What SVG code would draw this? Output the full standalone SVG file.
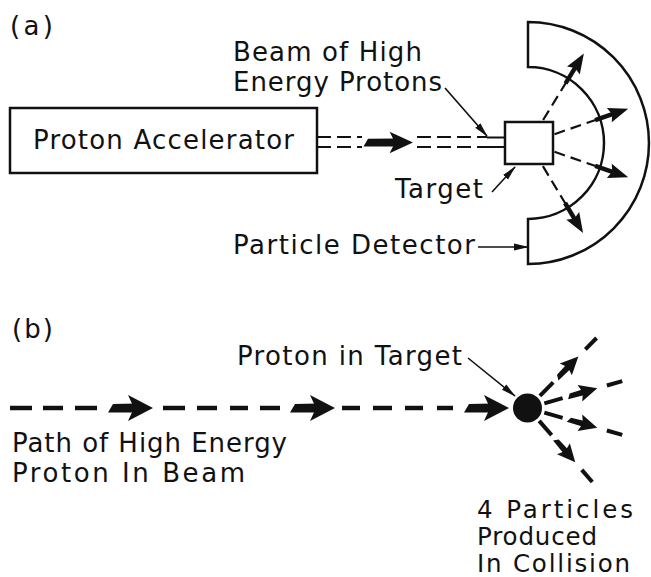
<svg xmlns="http://www.w3.org/2000/svg" xmlns:xlink="http://www.w3.org/1999/xlink" width="651" height="577" viewBox="0 0 651 577">
<style>
text{font-family:"DejaVu Sans","Liberation Sans",Arial,sans-serif;font-size:26px;fill:#111}
.sm{font-size:24.5px}
.ln{fill:none;stroke:#111;stroke-width:2.5}
.thin{fill:none;stroke:#111;stroke-width:1.6}
.dsh{fill:none;stroke:#111;stroke-width:2.2;stroke-dasharray:14 6}
.fill{fill:#111;stroke:none}
</style>
<defs>
<marker id="ah" markerWidth="15" markerHeight="8" refX="14" refY="4" orient="auto" markerUnits="userSpaceOnUse">
<path d="M0,0.6 L15,4 L0,7.4 Z" fill="#111"/>
</marker>
<g id="rayA">
<line x1="27" y1="0" x2="72" y2="0" stroke="#111" stroke-width="2.2" stroke-dasharray="11 6"/>
<line x1="70" y1="0" x2="89" y2="0" stroke="#111" stroke-width="4.5"/>
<polygon points="85,-7.5 105,0 85,7.5 88,0" fill="#111"/>
</g>
<g id="rayB">
<line x1="17" y1="0" x2="36" y2="0" stroke="#111" stroke-width="4"/>
<polygon points="41,2.5 44,-2.5 58,-3 58,3" fill="#111"/>
<polygon points="54,-8.5 72,0 54,8.5 57,0" fill="#111"/>
<line x1="82" y1="0" x2="98" y2="0" stroke="#111" stroke-width="4"/>
</g>
<g id="beamArrow">
<polygon points="-45,4.5 -40,-4 -17,-4.5 -17,4.5" fill="#111"/>
<polygon points="-25,-13 0,0 -25,13 -19,0" fill="#111"/>
</g>
</defs>

<!-- part (a) -->
<text id="label-a" x="10" y="35" textLength="43" lengthAdjust="spacing">(a)</text>

<g id="accelerator">
<rect class="ln" x="10" y="108" width="307" height="65"/>
<text x="33" y="149" textLength="261" lengthAdjust="spacing">Proton Accelerator</text>
</g>

<g id="target">
<rect class="ln" x="505" y="122" width="48" height="42"/>
</g>

<g id="detector">
<path class="ln" d="M528,22 A121,121 0 0 1 528,264 L528,219 A76,76 0 0 0 528,67 Z"/>
</g>

<g id="beam-label">
<text x="233" y="61" textLength="189" lengthAdjust="spacing">Beam of High</text>
<text x="233" y="91" textLength="209" lengthAdjust="spacing">Energy Protons</text>
</g>
<g id="target-label">
<text x="395" y="198" textLength="88" lengthAdjust="spacing">Target</text>
</g>
<g id="detector-label">
<text x="233" y="254" textLength="242" lengthAdjust="spacing">Particle Detector</text>
</g>

<g id="connectors-a">
<line class="dsh" x1="317" y1="137" x2="362" y2="137"/>
<line class="dsh" x1="317" y1="147" x2="362" y2="147"/>
<line class="dsh" x1="417" y1="137" x2="487" y2="137"/>
<line class="dsh" x1="417" y1="147" x2="487" y2="147"/>
<line class="ln" x1="487" y1="137.5" x2="505" y2="137.5" style="stroke-width:2"/>
<line class="ln" x1="487" y1="147" x2="505" y2="147" style="stroke-width:2"/>
<g transform="translate(413 142.5) scale(0.9 0.82)">
<polygon points="-55,5 -50,-4.5 -17,-5 -17,5" fill="#111"/>
<polygon points="-26,-13 0,0 -26,13 -20,0" fill="#111"/>
</g>
<line class="thin" x1="445" y1="88" x2="487" y2="136" marker-end="url(#ah)"/>
<line class="thin" x1="492" y1="192" x2="515" y2="167" marker-end="url(#ah)"/>
<line class="thin" x1="478" y1="247" x2="528" y2="247" marker-end="url(#ah)"/>
<use xlink:href="#rayA" transform="translate(529 143) rotate(-58.5)"/>
<use xlink:href="#rayA" transform="translate(529 143) rotate(-19.1)"/>
<use xlink:href="#rayA" transform="translate(529 143) rotate(19.1)"/>
<use xlink:href="#rayA" transform="translate(529 143) rotate(59)"/>
</g>

<!-- part (b) -->
<text id="label-b" x="12" y="338" textLength="41" lengthAdjust="spacing">(b)</text>

<g id="proton-in-target">
<circle class="fill" cx="527.5" cy="408" r="14.5"/>
</g>

<g id="proton-target-label">
<text x="237" y="365" textLength="225" lengthAdjust="spacing">Proton in Target</text>
</g>
<g id="path-label">
<text x="12" y="452" textLength="275" lengthAdjust="spacing">Path of High Energy</text>
<text x="12" y="482" textLength="233" lengthAdjust="spacing">Proton In Beam</text>
</g>
<g id="particles-label">
<text class="sm" x="477" y="518" textLength="156" lengthAdjust="spacing">4 Particles</text>
<text class="sm" x="477" y="545" textLength="120" lengthAdjust="spacing">Produced</text>
<text class="sm" x="477" y="572" textLength="153" lengthAdjust="spacing">In Collision</text>
</g>

<g id="connectors-b">
<g stroke="#111" stroke-width="4.5">
<line x1="10" y1="408" x2="32" y2="408"/>
<line x1="43" y1="408" x2="63" y2="408"/>
<line x1="75" y1="408" x2="97" y2="408"/>
<line x1="163" y1="408" x2="185" y2="408"/>
<line x1="197" y1="408" x2="217" y2="408"/>
<line x1="230" y1="408" x2="248" y2="408"/>
<line x1="260" y1="408" x2="280" y2="408"/>
<line x1="342" y1="408" x2="360" y2="408"/>
<line x1="373" y1="408" x2="392" y2="408"/>
<line x1="405" y1="408" x2="423" y2="408"/>
<line x1="437" y1="408" x2="453" y2="408"/>
</g>
<use xlink:href="#beamArrow" transform="translate(153 408)"/>
<use xlink:href="#beamArrow" transform="translate(335 408)"/>
<use xlink:href="#beamArrow" transform="translate(509 408)"/>
<line class="thin" x1="468" y1="358" x2="515" y2="396" marker-end="url(#ah)"/>
<use xlink:href="#rayB" transform="translate(528 408) rotate(-45.6)"/>
<use xlink:href="#rayB" transform="translate(528 408) rotate(-15.9)"/>
<use xlink:href="#rayB" transform="translate(528 408) rotate(15.9)"/>
<use xlink:href="#rayB" transform="translate(528 408) rotate(49)"/>
</g>
</svg>
